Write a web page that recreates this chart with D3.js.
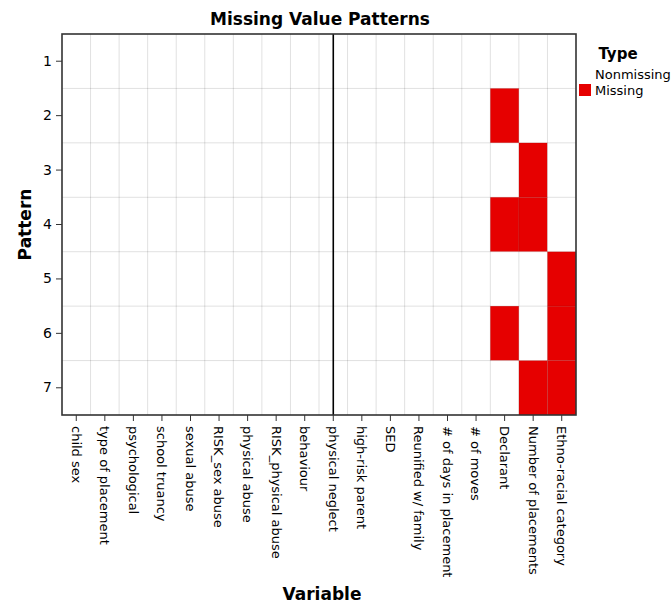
<!DOCTYPE html>
<html>
<head>
<meta charset="utf-8">
<script src="https://cdn.jsdelivr.net/npm/d3@7"></script>
<style>
  body { margin: 0; background: #fff; }
  text { font-family: "DejaVu Sans", sans-serif; fill: #000; }
</style>
</head>
<body>
<div id="chart"></div>
<script>
// variables in column order
const variables = ["child sex", "type of placement", "psychological", "school truancy",
    "sexual abuse", "RISK_sex abuse", "physical abuse", "RISK_physical abuse", "behaviour",
    "physical neglect", "high-risk parent", "SED", "Reunified w/ family",
    "# of days in placement", "# of moves", "Declarant", "Number of placements",
    "Ethno-racial category"];
const patterns = [1, 2, 3, 4, 5, 6, 7];
// missing variables per pattern
const missingDeclarant = [0, 1, 0, 1, 0, 1, 0];
const missingPlacements = [0, 0, 1, 1, 0, 0, 1];
const missingEthno = [0, 0, 0, 0, 1, 1, 1];
const legendTypes = ["Nonmissing", "Missing"];
const legendColors = ["#ffffff", "#e60000"];

const width = 672, height = 607;
const margin = {left: 62, top: 34, right: 96, bottom: 192};

const svg = d3.select("#chart").append("svg")
    .attr("width", width)
    .attr("height", height);

const x = d3.scaleBand().domain(variables).range([margin.left, width - margin.right]);
const y = d3.scaleBand().domain(patterns).range([margin.top, height - margin.bottom]);

// build the cell table
const cells = [];
patterns.forEach((p, i) => {
    variables.forEach(v => {
        let m = 0;
        if (v == "Declarant") m = missingDeclarant[i];
        if (v == "Number of placements") m = missingPlacements[i];
        if (v == "Ethno-racial category") m = missingEthno[i];
        cells.push({pattern: p, variable: v, missing: m});
    });
});

svg.append("g").selectAll("rect")
    .data(cells)
    .join("rect")
    .attr("x", d => x(d.variable))
    .attr("y", d => y(d.pattern))
    .attr("width", x.bandwidth())
    .attr("height", y.bandwidth())
    .attr("fill", d => d.missing ? legendColors[1] : legendColors[0]);

// gridlines on cell boundaries
const grid = svg.append("g").attr("stroke", "#000").attr("stroke-opacity", 0.12);
variables.slice(1).forEach(v => {
    grid.append("line")
        .attr("x1", x(v)).attr("x2", x(v))
        .attr("y1", margin.top).attr("y2", height - margin.bottom);
});
patterns.slice(1).forEach(p => {
    grid.append("line")
        .attr("x1", margin.left).attr("x2", width - margin.right)
        .attr("y1", y(p)).attr("y2", y(p));
});

// reference line
const refX = x("physical neglect") + x.bandwidth() / 2;
svg.append("line")
    .attr("x1", refX).attr("x2", refX)
    .attr("y1", margin.top).attr("y2", height - margin.bottom)
    .attr("stroke", "#000")
    .attr("stroke-width", 1.6);

// frame
svg.append("rect")
    .attr("x", margin.left).attr("y", margin.top)
    .attr("width", width - margin.left - margin.right)
    .attr("height", height - margin.top - margin.bottom)
    .attr("fill", "none")
    .attr("stroke", "#333")
    .attr("stroke-width", 1.6);

// y axis
const yAxis = svg.append("g")
    .attr("transform", `translate(${margin.left},0)`)
    .call(d3.axisLeft(y).tickSize(6).tickPadding(4));
yAxis.select(".domain").remove();
yAxis.selectAll(".tick line").attr("stroke", "#333");
yAxis.selectAll(".tick text").style("font-size", "14px").style("font-family", "DejaVu Sans");

// x axis
const xAxis = svg.append("g")
    .attr("transform", `translate(0,${height - margin.bottom})`)
    .call(d3.axisBottom(x).tickSize(6).tickPadding(3));
xAxis.select(".domain").remove();
xAxis.selectAll(".tick line").attr("stroke", "#333");
xAxis.selectAll(".tick text")
    .style("font-size", "13px")
    .style("font-family", "DejaVu Sans")
    .attr("transform", "rotate(90)")
    .attr("x", 11)
    .attr("y", 0)
    .attr("dy", "0.35em")
    .attr("text-anchor", "start");

// titles
svg.append("text")
    .attr("x", 320)
    .attr("y", 25)
    .attr("text-anchor", "middle")
    .style("font-size", "17px")
    .style("font-weight", "bold")
    .text("Missing Value Patterns");

svg.append("text")
    .attr("transform", `translate(31,${(margin.top + height - margin.bottom) / 2}) rotate(-90)`)
    .attr("text-anchor", "middle")
    .style("font-size", "17px")
    .style("font-weight", "bold")
    .text("Pattern");

svg.append("text")
    .attr("x", 322)
    .attr("y", 600)
    .attr("text-anchor", "middle")
    .style("font-size", "17px")
    .style("font-weight", "bold")
    .text("Variable");

// legend
svg.append("text")
    .attr("x", 618)
    .attr("y", 59)
    .attr("text-anchor", "middle")
    .style("font-size", "15px")
    .style("font-weight", "bold")
    .text("Type");

const legend = svg.append("g").selectAll("g")
    .data(legendTypes)
    .join("g")
    .attr("transform", (d, i) => `translate(579,${68 + i * 16})`);
legend.append("rect")
    .attr("width", 12)
    .attr("height", 12)
    .attr("fill", (d, i) => legendColors[i]);
legend.append("text")
    .attr("x", 16)
    .attr("y", 11)
    .style("font-size", "13px")
    .text(d => d);
</script>
</body>
</html>
